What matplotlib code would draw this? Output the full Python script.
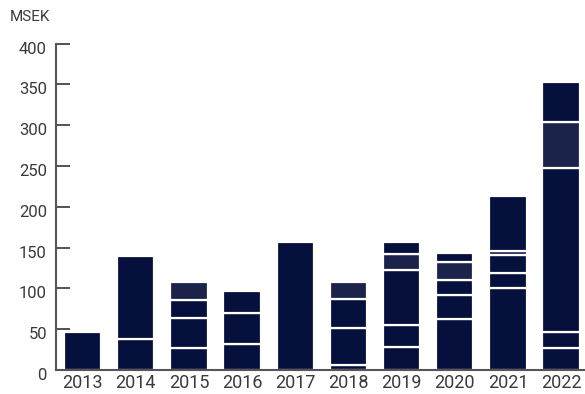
import numpy as np
import matplotlib
matplotlib.use('Agg')
from matplotlib import pyplot as plt
from matplotlib.transforms import ScaledTranslation

# MSEK per year, stacked from bottom to top
years = ['2013', '2014', '2015', '2016', '2017', '2018', '2019', '2020', '2021', '2022']
seg1 = [47, 38, 27, 32, 156.5, 6, 28.5, 62, 101, 26.5]
seg2 = [0, 102, 37, 38, 0, 45, 26.5, 30.5, 17.5, 19.5]
seg3 = [0, 0, 22, 27, 0, 35.5, 67.5, 17.5, 22.5, 202]
seg4 = [0, 0, 22, 0, 0, 21.5, 19.5, 22.5, 4.5, 56.5]   # lighter shade
seg5 = [0, 0, 0, 0, 0, 0, 14.5, 11, 68, 48]

dark = '#05103c'
light = '#1b234b'
layers = [(seg1, dark), (seg2, dark), (seg3, dark), (seg4, light), (seg5, dark)]

plt.rcParams['font.family'] = ['Roboto', 'DejaVu Sans']

fig = plt.figure(figsize=(5.85, 3.94), dpi=100)
ax = fig.add_axes([56 / 585, 1 - 370 / 394, 1 - 56 / 585, (370 - 43.7) / 394])

x = np.arange(len(years))
bottom = np.zeros(len(years))
for vals, col in layers:
    vals = np.array(vals, dtype=float)
    for i in range(len(years)):
        if vals[i] > 0:
            ax.bar(x[i], vals[i], bottom=bottom[i], width=0.7, color=col,
                   edgecolor='white', linewidth=1.6)
    bottom += vals

ax.set_xlim(-0.5, 9.45)
ax.set_ylim(0, 400)
ax.set_yticks(range(0, 401, 50))
ax.set_xticks(x)
ax.set_xticklabels(years)

for s in ['top', 'right']:
    ax.spines[s].set_visible(False)
for s in ['left', 'bottom']:
    ax.spines[s].set_color('#555555')
    ax.spines[s].set_linewidth(1.5)

ax.tick_params(axis='y', direction='in', length=10, width=1.3, color='#444444',
               pad=6.5, labelsize=12, labelcolor='#3a3a3a')
ax.tick_params(axis='x', length=0, pad=3, labelsize=13, labelcolor='#3a3a3a')

# y labels sit a little below their ticks in the original
shift = ScaledTranslation(0, -4 / 100, fig.dpi_scale_trans)
for lbl in ax.get_yticklabels():
    lbl.set_transform(lbl.get_transform() + shift)

fig.text(10 / 585, 1 - 17 / 394, 'MSEK', fontsize=11, color='#3a3a3a', va='center', ha='left')

plt.savefig('out.png', dpi=100)
